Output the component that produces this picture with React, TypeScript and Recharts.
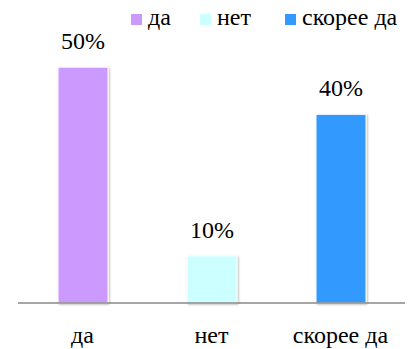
import React from 'react';
import { BarChart, Bar, XAxis, YAxis, Cell, LabelList } from 'recharts';

const categories = ['да', 'нет', 'скорее да'];
const shares = [50, 10, 40];
const colors = ['#CC99FF', '#CCFFFF', '#3399FF'];
const legendLeft = [131, 200, 285];

const data = categories.map((name, i) => ({ name, value: shares[i] }));

const FONT = '"Liberation Serif", "Times New Roman", serif';

const App: React.FC = () => {
  return (
    <div style={{ position: 'absolute', left: 0, top: 0, width: 409, height: 349, background: '#fff' }}>
      <BarChart
        width={409}
        height={349}
        data={data}
        margin={{ top: 20, right: 4, left: 18, bottom: 16 }}
      >
        <defs>
          <filter id="barShadow" x="-20%" y="-10%" width="140%" height="120%">
            <feDropShadow dx="1" dy="1" stdDeviation="1.2" floodColor="#000" floodOpacity="0.3" />
          </filter>
        </defs>
        <XAxis
          dataKey="name"
          height={30}
          tickLine={false}
          axisLine={{ stroke: '#898989', strokeWidth: 1.5 }}
          tick={{ fontFamily: FONT, fontSize: 24, fill: '#000' }}
          dy={15}
        />
        <YAxis hide domain={[0, 60]} />
        <Bar dataKey="value" barSize={50} isAnimationActive={false} stroke="#fff" strokeWidth={1} filter="url(#barShadow)">
          {data.map((d, i) => (
            <Cell key={d.name} fill={colors[i]} />
          ))}
          <LabelList
            dataKey="value"
            position="top"
            offset={18}
            formatter={(v: any) => `${v}%`}
            fontFamily={FONT}
            fontSize={24}
            fill="#000"
          />
        </Bar>
      </BarChart>
      {categories.map((name, i) => (
        <div
          key={name}
          style={{
            position: 'absolute',
            left: legendLeft[i],
            top: 4,
            display: 'flex',
            alignItems: 'baseline',
            fontFamily: FONT,
            fontSize: 24,
            color: '#000',
            whiteSpace: 'nowrap',
          }}
        >
          <span style={{ display: 'inline-block', width: 11, height: 11, background: colors[i], marginRight: 6, marginBottom: 5 }} />
          <span>{name}</span>
        </div>
      ))}
    </div>
  );
};

export default App;
